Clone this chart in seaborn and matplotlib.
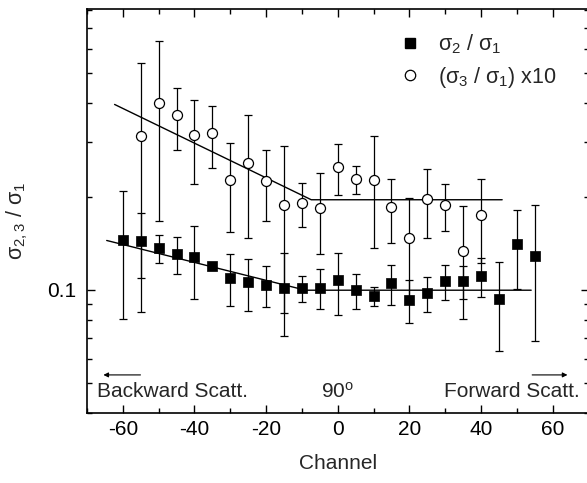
import matplotlib
matplotlib.use("Agg")
import matplotlib.pyplot as plt
from matplotlib.lines import Line2D
from matplotlib.ticker import MultipleLocator, FixedLocator, NullFormatter, FixedFormatter
import numpy as np
import pandas as pd
import seaborn as sns

# ---------------- data ----------------
ch_sq = [-60, -55, -50, -45, -40, -35, -30, -25, -20, -15, -10, -5,
         0, 5, 10, 15, 20, 25, 30, 35, 40, 45, 50, 55]
sq_val = [0.1447, 0.1434, 0.1364, 0.1305, 0.1273, 0.1193, 0.1095, 0.1057,
          0.1036, 0.1011, 0.1013, 0.1016, 0.1073, 0.0996, 0.0955, 0.1051,
          0.0930, 0.0976, 0.1065, 0.1065, 0.1111, 0.0934, 0.1409, 0.1285]
sq_err = [0.064, 0.034, 0.014, 0.018, 0.034, 0.003, 0.021, 0.020,
          0.0155, 0.030, 0.0097, 0.015, 0.024, 0.0127, 0.007, 0.0155,
          0.015, 0.0125, 0.014, 0.013, 0.016, 0.030, 0.040, 0.060]

ch_ci = [-55, -50, -45, -40, -35, -30, -25, -20, -15, -10,
         -5, 0, 5, 10, 15, 20, 25, 30, 35, 40]
ci_val = [0.3126, 0.4005, 0.3655, 0.3149, 0.3198, 0.2261, 0.2571, 0.2250,
          0.1883, 0.1905, 0.1842, 0.2490, 0.2273, 0.2256, 0.1846, 0.1466,
          0.1963, 0.1874, 0.1338, 0.1748]
ci_err = [0.228, 0.234, 0.083, 0.095, 0.073, 0.072, 0.110, 0.058,
          0.104, 0.031, 0.054, 0.047, 0.023, 0.089, 0.043, 0.051,
          0.049, 0.033, 0.053, 0.053]

fit_sq_x = [-64.5, -9.0, 54.0]
fit_sq_y = [0.1444, 0.0998, 0.0998]
fit_ci_x = [-62.3, -7.4, 45.9]
fit_ci_y = [0.3966, 0.1954, 0.1954]

x_ticks = [-60, -40, -20, 0, 20, 40, 60]
label_sq = r'$\sigma_2$ / $\sigma_1$'
label_ci = r'($\sigma_3$ / $\sigma_1$) x10'

# ---------------- style ----------------
sns.set_theme(style="ticks")
plt.rcParams['font.family'] = ['Liberation Sans', 'DejaVu Sans']
plt.rcParams['mathtext.fontset'] = 'custom'
plt.rcParams['mathtext.rm'] = 'Liberation Sans'
plt.rcParams['mathtext.it'] = 'Liberation Sans'
plt.rcParams['mathtext.bf'] = 'Liberation Sans:bold'
plt.rcParams['axes.unicode_minus'] = False

fig = plt.figure(figsize=(5.87, 4.83), dpi=100)
ax = fig.add_axes([87/587, 1 - 413.3/483, 501.5/587, (413.3 - 9.3)/483])

df_sq = pd.DataFrame({"ch": ch_sq, "val": sq_val, "err": sq_err})
df_ci = pd.DataFrame({"ch": ch_ci, "val": ci_val, "err": ci_err})

# error bars
ax.errorbar(df_sq.ch, df_sq.val, yerr=df_sq.err, fmt='none', ecolor='black',
            elinewidth=0.9, capsize=3.2, capthick=0.9, zorder=2)
ax.errorbar(df_ci.ch, df_ci.val, yerr=df_ci.err, fmt='none', ecolor='black',
            elinewidth=0.9, capsize=3.2, capthick=0.9, zorder=2)

# fit lines
sns.lineplot(x=fit_sq_x, y=fit_sq_y, ax=ax, color='black', lw=1.0,
             sort=False, estimator=None, zorder=3)
sns.lineplot(x=fit_ci_x, y=fit_ci_y, ax=ax, color='black', lw=1.0,
             sort=False, estimator=None, zorder=3)

# markers
sns.scatterplot(data=df_sq, x="ch", y="val", ax=ax, marker='s', s=44,
                color='black', edgecolor='black', linewidth=0.5, zorder=4)
sns.scatterplot(data=df_ci, x="ch", y="val", ax=ax, marker='o', s=52,
                facecolor='white', edgecolor='black', linewidth=0.9, zorder=4)

ax.set_yscale('log')
ax.set_xlim(-70, 70)
ax.set_ylim(0.04, 0.804)

ax.xaxis.set_major_locator(FixedLocator(x_ticks))
ax.xaxis.set_minor_locator(MultipleLocator(10))
ax.yaxis.set_major_locator(FixedLocator([0.1]))
ax.yaxis.set_major_formatter(FixedFormatter(['0.1']))
ax.yaxis.set_minor_locator(FixedLocator([0.04, 0.05, 0.06, 0.07, 0.08, 0.09,
                                         0.2, 0.3, 0.4, 0.5, 0.6, 0.7, 0.8]))
ax.yaxis.set_minor_formatter(NullFormatter())

ax.tick_params(which='both', direction='in', top=True, right=True,
               labelsize=15, colors='black', width=1.0)
ax.tick_params(axis='x', which='both', pad=5)
ax.tick_params(axis='y', which='both', pad=8)
ax.tick_params(which='major', length=6)
ax.tick_params(which='minor', length=3.5)
for s in ax.spines.values():
    s.set_linewidth(1.2)
    s.set_color('black')

ax.set_xlabel('Channel', fontsize=15)
ax.xaxis.set_label_coords(0.5, -0.10)
ax.set_ylabel(r'$\sigma_{2,3}$ / $\sigma_1$', fontsize=15.5)
ax.yaxis.set_label_coords(-0.114, 0.475)

# annotations
ax.text(0.02, 0.053, 'Backward Scatt.', transform=ax.transAxes,
        fontsize=15, ha='left', va='center')
ax.text(0.983, 0.053, 'Forward Scatt.', transform=ax.transAxes,
        fontsize=15, ha='right', va='center')
ax.text(0, 0.053, r'90$^{\mathrm{o}}$', transform=ax.get_xaxis_transform(),
        fontsize=15, ha='center', va='center')
ax.annotate('', xy=(-66.2, 0.095), xytext=(-54.3, 0.095),
            xycoords=ax.get_xaxis_transform(),
            arrowprops=dict(arrowstyle='-|>', lw=0.8, color='black',
                            mutation_scale=7))
ax.annotate('', xy=(64.9, 0.095), xytext=(53.5, 0.095),
            xycoords=ax.get_xaxis_transform(),
            arrowprops=dict(arrowstyle='-|>', lw=0.8, color='black',
                            mutation_scale=7))

# legend
handles = [Line2D([], [], marker='s', ls='none', color='black', ms=6.5),
           Line2D([], [], marker='o', ls='none', mfc='white', mec='black',
                  mew=0.9, ms=7.5)]
leg = ax.legend(handles, [label_sq, label_ci], loc='upper left',
                bbox_to_anchor=(0.58, 0.99), frameon=False, fontsize=15.5,
                handletextpad=0.7, labelspacing=0.4, handlelength=1.2)

fig.savefig('out.png', dpi=100)
